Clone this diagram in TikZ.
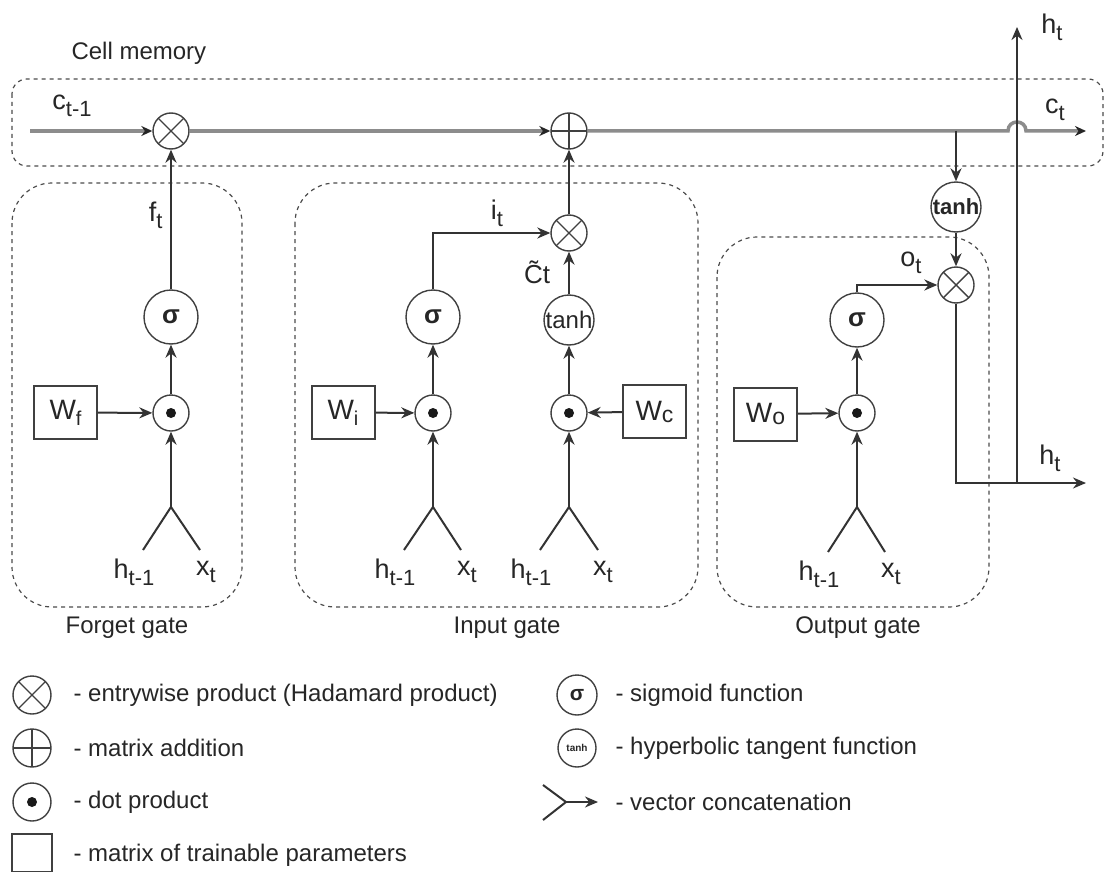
\documentclass[tikz,border=0pt]{standalone}
\usepackage{fontspec}
\setmainfont{Liberation Sans}
\usetikzlibrary{arrows.meta, positioning, shapes}
\newcommand{\vsub}[2]{#1\raisebox{-7pt}{\fontsize{22}{22}\selectfont #2}}
\newcommand{\wsub}[1]{W\raisebox{-6pt}{\fontsize{20}{20}\selectfont #1}}
\newcommand{\wlow}[1]{W\raisebox{-2pt}{\fontsize{23}{23}\selectfont #1}}
\tikzstyle{gatebox} = [draw=black!70, line width=1.2pt, dash pattern=on 4pt off 4pt, rounded corners=40pt]
\tikzstyle{opnode} = [circle, draw=black!75, line width=1.4pt, minimum size=36pt, inner sep=0pt, fill=white]
\tikzstyle{hadamard} = [opnode, path picture={\draw[black!75, line width=1.4pt] (path picture bounding box.north west) -- (path picture bounding box.south east) (path picture bounding box.north east) -- (path picture bounding box.south west);}]
\tikzstyle{addnode} = [opnode, path picture={\draw[black!75, line width=1.4pt] (path picture bounding box.north) -- (path picture bounding box.south) (path picture bounding box.west) -- (path picture bounding box.east);}]
\tikzstyle{dotnode} = [opnode, path picture={\fill[black!90] (path picture bounding box.center) circle[radius=5pt];}]
\tikzstyle{actnode} = [circle, draw=black!75, line width=1.4pt, minimum size=54pt, inner sep=0pt, font=\bfseries\fontsize{26}{26}\selectfont]
\tikzstyle{tanhnode} = [circle, draw=black!75, line width=1.4pt, minimum size=50pt, inner sep=0pt, font=\fontsize{24}{24}\selectfont]
\tikzstyle{wbox} = [rectangle, draw=black!75, line width=2pt, minimum width=63pt, minimum height=53pt, inner sep=0pt, font=\fontsize{28}{28}\selectfont]
\tikzstyle{wire} = [draw=black!80, line width=2pt, -{Stealth[length=13pt,width=11pt]}]
\tikzstyle{plainwire} = [draw=black!80, line width=2pt]
\tikzstyle{cellline} = [draw=black!45, line width=3.5pt]
\tikzstyle{celltip} = [cellline, -{Stealth[length=11pt,width=10pt,black!85]}]
\tikzstyle{var} = [font=\fontsize{27}{30}\selectfont]
\tikzstyle{legendtext} = [anchor=west]

\begin{document}
\begin{tikzpicture}[x=1pt, y=-1pt, font=\fontsize{24}{28}\selectfont, text=black!85]
	\useasboundingbox (0,0) rectangle (1105,872);
	\draw[gatebox, rounded corners=15pt] (12,79) rectangle (1103,166);
	\draw[gatebox] (12,183) rectangle (242,607);
	\draw[gatebox] (295,183) rectangle (698,607);
	\draw[gatebox] (717,237) rectangle (989,607);
	\node[anchor=west] (memtitle) at (68,53) {Cell memory};
	\node (fgtitle) at (127,628) {Forget gate};
	\node (igtitle) at (507,628) {Input gate};
	\node (ogtitle) at (858,628) {Output gate};

	\node[hadamard] (mulf) at (171,131) {};
	\node[addnode] (addc) at (569,131) {};
	\node[actnode] (sigf) at (171,317) {σ};
	\node[dotnode] (dotf) at (171,413) {};
	\node[wbox] (Wf) at (65.5,412.5) {\wsub{f}};
	\coordinate (jf) at (171,507);
	\coordinate (hf) at (143,550);
	\coordinate (xf) at (200,550);
	\node[var] (hfl) at (134,572) {\vsub{h}{t-1}};
	\node[var] (xfl) at (206,572) {\vsub{x}{t}};
	\node[var, anchor=east] (ftl) at (166,215) {\vsub{f}{t}};

	\node[actnode] (sigi) at (433,317) {σ};
	\node[dotnode] (doti) at (433,413) {};
	\node[wbox] (Wi) at (343,412.5) {\wsub{i}};
	\coordinate (ji) at (433,507);
	\coordinate (hi) at (404,550);
	\coordinate (xi) at (461,550);
	\node[var] (hil) at (395,572) {\vsub{h}{t-1}};
	\node[var] (xil) at (467,572) {\vsub{x}{t}};
	\node[hadamard] (mulc) at (569,233) {};
	\node[tanhnode] (tanhc) at (569,320) {tanh};
	\node[dotnode] (dotc) at (569,413) {};
	\node[wbox] (Wc) at (654.5,411.5) {\wlow{c}};
	\coordinate (jc) at (569,507);
	\coordinate (hc) at (540,550);
	\coordinate (xc) at (598,550);
	\node[var] (hcl) at (531,572) {\vsub{h}{t-1}};
	\node[var] (xcl) at (603,572) {\vsub{x}{t}};
	\node[var] (itl) at (497,213) {\vsub{i}{t}};
	\node[font=\fontsize{26}{28}\selectfont] (ctl) at (537,272) {\~{C}t};

	\node[actnode] (sigo) at (857,320) {σ};
	\node[dotnode] (doto) at (857,413) {};
	\node[wbox] (Wo) at (765.5,414) {\wlow{o}};
	\coordinate (jo) at (857,507);
	\coordinate (ho) at (828,552);
	\coordinate (xo) at (885,552);
	\node[var] (hol) at (819,574) {\vsub{h}{t-1}};
	\node[var] (xol) at (891,574) {\vsub{x}{t}};
	\node[hadamard] (mulo) at (956,285) {};
	\node[tanhnode, font=\fontsize{22}{22}\selectfont\bfseries] (tanho) at (956,207) {tanh};
	\node[var] (otl) at (911,263) {\vsub{o}{t}};

	\coordinate (cin) at (30,131);
	\coordinate (cbr) at (956,131);
	\coordinate (hopl) at (1008,131);
	\coordinate (hopr) at (1026,131);
	\coordinate (cout) at (1086,131);
	\coordinate (hturn) at (956,483);
	\coordinate (hsplit) at (1017,483);
	\coordinate (hout) at (1086,483);
	\coordinate (htop) at (1017,27);
	\node[var] (ctm1) at (72,106) {\vsub{c}{t-1}};
	\node[var] (ctl2) at (1055,110) {\vsub{c}{t}};
	\node[var] (htl1) at (1052,27) {\vsub{h}{t}};
	\node[var] (htl2) at (1050,458) {\vsub{h}{t}};

	\draw[celltip] (cin) -- (mulf);
	\draw[celltip] (mulf) -- (addc);
	\draw[celltip] (addc) -- (hopl) .. controls (1008,119) and (1026,119) .. (hopr) -- (cout);
	\draw[wire] (cbr) -- (tanho);
	\draw[wire] (tanho) -- (mulo);
	\draw[wire] (sigo.north) |- (mulo.west);
	\draw[plainwire] (mulo) -- (hturn) -- (hsplit);
	\draw[wire] (hsplit) -- (hout);
	\draw[wire] (hsplit) -- (htop);

	\draw[wire] (sigf) -- (mulf);
	\draw[wire] (dotf) -- (sigf);
	\draw[wire] (Wf) -- (dotf);
	\draw[plainwire] (hf) -- (jf) -- (xf);
	\draw[wire] (jf) -- (dotf);

	\draw[wire] (sigi.north) |- (mulc.west);
	\draw[wire] (doti) -- (sigi);
	\draw[wire] (Wi) -- (doti);
	\draw[plainwire] (hi) -- (ji) -- (xi);
	\draw[wire] (ji) -- (doti);
	\draw[wire] (mulc) -- (addc);
	\draw[wire] (tanhc) -- (mulc);
	\draw[wire] (dotc) -- (tanhc);
	\draw[wire] (Wc) -- (dotc);
	\draw[plainwire] (hc) -- (jc) -- (xc);
	\draw[wire] (jc) -- (dotc);

	\draw[wire] (doto) -- (sigo);
	\draw[wire] (Wo) -- (doto);
	\draw[plainwire] (ho) -- (jo) -- (xo);
	\draw[wire] (jo) -- (doto);

	\node[hadamard, minimum size=38pt] (lgmul) at (32,695) {};
	\node[addnode, minimum size=38pt] (lgadd) at (32,748) {};
	\node[dotnode, minimum size=38pt] (lgdot) at (32,802) {};
	\node[wbox, minimum width=40pt, minimum height=38pt, line width=1.5pt] (lgbox) at (32,853) {};
	\node[legendtext] (lgmult) at (70,695) {- entrywise product (Hadamard product)};
	\node[legendtext] (lgaddt) at (70,748) {- matrix addition};
	\node[legendtext] (lgdott) at (70,802) {- dot product};
	\node[legendtext] (lgboxt) at (70,855) {- matrix of trainable parameters};
	\node[actnode, minimum size=40pt, font=\bfseries\fontsize{21}{21}\selectfont] (lgsig) at (577,695) {σ};
	\node[tanhnode, minimum size=38pt, font=\bfseries\fontsize{10}{10}\selectfont] (lgtanh) at (577,748) {tanh};
	\coordinate (lgca) at (543,785);
	\coordinate (lgcb) at (543,820);
	\coordinate (lgcj) at (566,802);
	\coordinate (lgcend) at (598,802);
	\draw[plainwire] (lgca) -- (lgcj) -- (lgcb);
	\draw[wire] (lgcj) -- (lgcend);
	\node[legendtext] (lgsigt) at (612,695) {- sigmoid function};
	\node[legendtext] (lgtanht) at (612,748) {- hyperbolic tangent function};
	\node[legendtext] (lgcatt) at (612,802) {- vector concatenation};
\end{tikzpicture}
\end{document}
